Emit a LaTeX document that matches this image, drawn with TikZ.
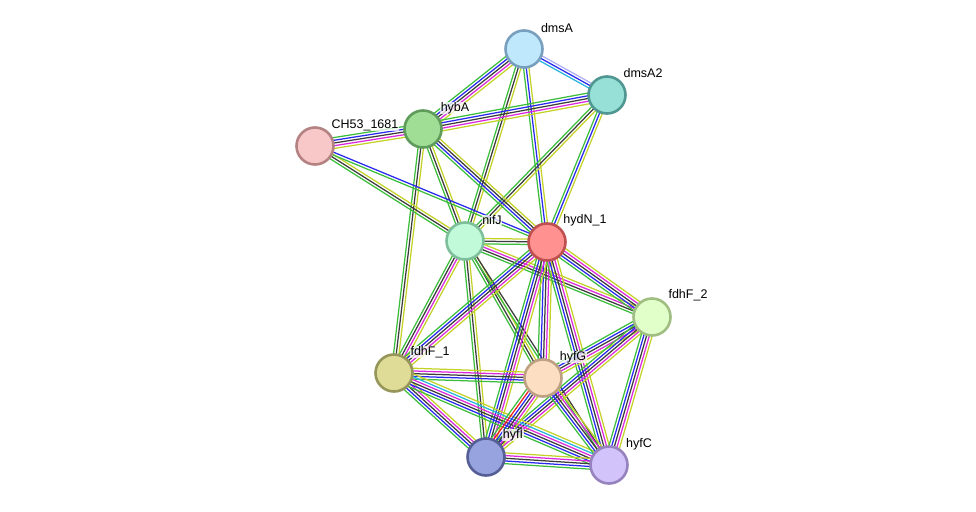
\documentclass[tikz,border=0pt]{standalone}
\usepackage{fontspec}
\setmainfont{Liberation Sans}
\usetikzlibrary{calc}
\pgfdeclarelayer{background}
\pgfdeclarelayer{canvas}
\pgfsetlayers{canvas,background,main}
\definecolor{cG}{RGB}{60,190,60}
\definecolor{cB}{RGB}{40,40,240}
\definecolor{cK}{RGB}{60,60,60}
\definecolor{cM}{RGB}{220,40,220}
\definecolor{cY}{RGB}{196,210,40}
\definecolor{cC}{RGB}{40,180,220}
\definecolor{cL}{RGB}{175,175,245}
\definecolor{cR}{RGB}{240,30,30}
\newcommand\stredge[4]{%
  \foreach \cc [count=\ii] in {#4}{%
    \pgfmathsetmacro\off{(\ii-(#3+1)/2)*2.7}%
    \draw[\cc, line width=1.25pt] ($(#1)!\off pt!90:(#2)$) -- ($(#2)!\off pt!-90:(#1)$);
  }}
\tikzset{
  prot/.style={circle, minimum size=37pt, inner sep=0pt, line width=2.6pt},
  lbl/.style={font=\fontsize{12.5}{14}\selectfont, inner sep=0.6pt, fill=white, fill opacity=0.75, text opacity=1}
}
\begin{document}
\begin{tikzpicture}[x=1pt,y=-1pt]
\useasboundingbox (0,0) rectangle (976,511);
\begin{pgfonlayer}{canvas}
\fill[white] (0,0) rectangle (976,511);
\end{pgfonlayer}
% nodes
\node[prot, fill={rgb,255:red,191;green,232;blue,252}, draw={rgb,255:red,120;green,160;blue,190}] (dmsA) at (524,49) {};
\node[prot, fill={rgb,255:red,150;green,224;blue,215}, draw={rgb,255:red,80;green,150;blue,145}] (dmsA2) at (607,95) {};
\node[prot, fill={rgb,255:red,160;green,222;blue,150}, draw={rgb,255:red,95;green,155;blue,90}] (hybA) at (423,129) {};
\node[prot, fill={rgb,255:red,248;green,200;blue,200}, draw={rgb,255:red,180;green,130;blue,130}] (CH) at (315,146) {};
\node[prot, fill={rgb,255:red,192;green,250;blue,216}, draw={rgb,255:red,125;green,190;blue,155}] (nifJ) at (465,241) {};
\node[prot, fill={rgb,255:red,255;green,145;blue,145}, draw={rgb,255:red,190;green,80;blue,80}] (hydN) at (547,242) {};
\node[prot, fill={rgb,255:red,225;green,255;blue,200}, draw={rgb,255:red,160;green,190;blue,130}] (fdhF2) at (652,317) {};
\node[prot, fill={rgb,255:red,222;green,220;blue,150}, draw={rgb,255:red,150;green,150;blue,90}] (fdhF1) at (394,373) {};
\node[prot, fill={rgb,255:red,252;green,222;blue,195}, draw={rgb,255:red,190;green,160;blue,130}] (hyfG) at (543,378) {};
\node[prot, fill={rgb,255:red,150;green,163;blue,222}, draw={rgb,255:red,85;green,95;blue,150}] (hyfI) at (486,457) {};
\node[prot, fill={rgb,255:red,210;green,195;blue,250}, draw={rgb,255:red,150;green,130;blue,190}] (hyfC) at (609,465) {};
% labels
\node[lbl] (l1) at (557,28) {dmsA};
\node[lbl] (l2) at (643,73) {dmsA2};
\node[lbl] (l3) at (455,108) {hybA};
\node[lbl] (l4) at (365,125) {CH53\_1681};
\node[lbl] (l5) at (492,220) {nifJ};
\node[lbl] (l6) at (585,220) {hydN\_1};
\node[lbl] (l7) at (688,295) {fdhF\_2};
\node[lbl] (l8) at (430,352) {fdhF\_1};
\node[lbl] (l9) at (573,357) {hyfG};
\node[lbl] (l10) at (513,435) {hyfI};
\node[lbl] (l11) at (639,444) {hyfC};
\begin{pgfonlayer}{background}
\stredge{dmsA}{dmsA2}{3}{cC,cB,cL}
\stredge{dmsA}{hybA}{5}{cG,cB,cK,cM,cY}
\stredge{dmsA}{nifJ}{3}{cG,cK,cY}
\stredge{dmsA}{hydN}{3}{cG,cB,cY}
\stredge{dmsA2}{hybA}{5}{cG,cB,cK,cM,cY}
\stredge{dmsA2}{nifJ}{3}{cG,cK,cY}
\stredge{dmsA2}{hydN}{3}{cG,cB,cY}
\stredge{hybA}{CH}{5}{cG,cB,cK,cM,cY}
\stredge{hybA}{nifJ}{3}{cG,cK,cY}
\stredge{hybA}{fdhF1}{3}{cG,cK,cY}
\stredge{hybA}{hydN}{4}{cG,cB,cK,cY}
\stredge{CH}{nifJ}{3}{cG,cK,cY}
\stredge{CH}{hydN}{2}{cG,cB}
\stredge{nifJ}{hydN}{3}{cG,cK,cY}
\stredge{nifJ}{fdhF1}{4}{cG,cK,cM,cY}
\stredge{nifJ}{hyfI}{3}{cG,cK,cY}
\stredge{nifJ}{hyfG}{3}{cG,cK,cY}
\stredge{nifJ}{hyfC}{2}{cG,cK}
\stredge{nifJ}{fdhF2}{4}{cG,cK,cM,cY}
\stredge{hydN}{fdhF2}{5}{cG,cB,cK,cM,cY}
\stredge{hydN}{fdhF1}{5}{cG,cB,cK,cM,cY}
\stredge{hydN}{hyfG}{5}{cG,cB,cK,cM,cY}
\stredge{hydN}{hyfI}{5}{cG,cB,cK,cM,cY}
\stredge{hydN}{hyfC}{5}{cG,cB,cK,cM,cY}
\stredge{fdhF2}{hyfG}{5}{cG,cB,cK,cM,cY}
\stredge{fdhF2}{hyfI}{5}{cG,cB,cK,cM,cY}
\stredge{fdhF2}{hyfC}{5}{cG,cB,cK,cM,cY}
\stredge{fdhF1}{hyfG}{5}{cG,cB,cK,cM,cY}
\stredge{fdhF1}{hyfI}{5}{cG,cB,cK,cM,cY}
\stredge{fdhF1}{hyfC}{6}{cG,cB,cK,cM,cC,cY}
\stredge{hyfG}{hyfI}{6}{cG,cR,cB,cK,cM,cY}
\stredge{hyfG}{hyfC}{5}{cG,cB,cK,cM,cY}
\stredge{hyfI}{hyfC}{5}{cG,cB,cK,cM,cY}
\end{pgfonlayer}
\end{tikzpicture}
\end{document}
